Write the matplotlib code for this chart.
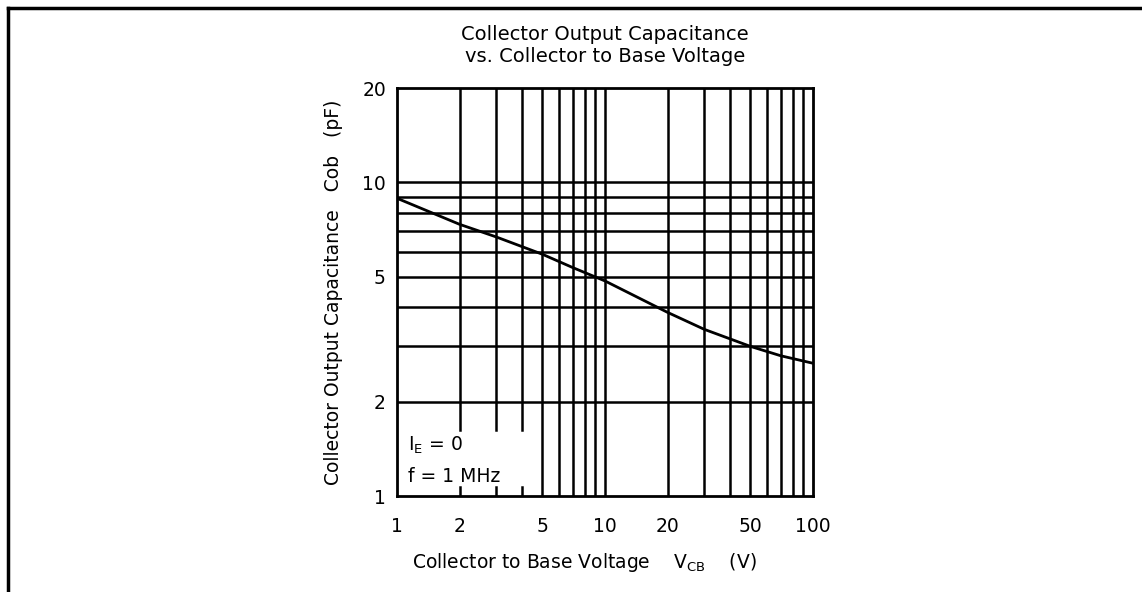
import matplotlib
matplotlib.use("Agg")
import matplotlib.pyplot as plt
from matplotlib.lines import Line2D
from matplotlib.ticker import FixedLocator, NullLocator, NullFormatter

# curve
vcb = [1, 2, 3, 5, 7, 10, 20, 30, 50, 70, 100]
cob = [8.9, 7.35, 6.7, 5.9, 5.35, 4.85, 3.85, 3.4, 3.0, 2.8, 2.65]

x_ticks = [1, 2, 5, 10, 20, 50, 100]
x_ticklabels = ["1", "2", "5", "10", "20", "50", "100"]
y_ticks = [1, 2, 5, 10, 20]
y_ticklabels = ["1", "2", "5", "10", "20"]

x_grid_full = [5, 6, 7, 8, 9, 10, 20, 30, 40, 50, 60, 70, 80, 90]
x_grid_part = [2, 3, 4]
y_grid = [2, 3, 4, 5, 6, 7, 8, 9, 10]

plt.rcParams["font.family"] = ["DejaVu Sans"]
fs = 13.5

fig = plt.figure(figsize=(11.42, 5.92), dpi=100)
ax = fig.add_axes([397 / 1142, 1 - 496 / 592, 416 / 1142, 408 / 592])
ax.set_xscale("log")
ax.set_yscale("log")
ax.set_xlim(1, 100)
ax.set_ylim(1, 20)

lw = 1.8
for v in x_grid_full:
    ax.axvline(v, color="black", lw=lw, zorder=1)
for v in x_grid_part:
    ax.plot([v, v], [1.62, 20], color="black", lw=lw, zorder=1)
    ax.plot([v, v], [1, 1.07], color="black", lw=lw, zorder=1)
for c in y_grid:
    ax.axhline(c, color="black", lw=lw, zorder=1)

ax.plot(vcb, cob, color="black", lw=2, zorder=3)

for s in ax.spines.values():
    s.set_linewidth(2)

ax.xaxis.set_major_locator(FixedLocator(x_ticks))
ax.set_xticklabels(x_ticklabels)
ax.xaxis.set_minor_locator(NullLocator())
ax.xaxis.set_minor_formatter(NullFormatter())
ax.yaxis.set_major_locator(FixedLocator(y_ticks))
ax.set_yticklabels(y_ticklabels)
ax.yaxis.set_minor_locator(NullLocator())
ax.yaxis.set_minor_formatter(NullFormatter())
ax.tick_params(axis="x", length=0, labelsize=fs, pad=15)
ax.tick_params(axis="y", length=0, labelsize=fs, pad=8)

ax.set_xlabel("Collector to Base Voltage    V$_{\\mathregular{CB}}$    (V)", fontsize=fs, labelpad=11)
ax.xaxis.label.set_x(0.45)
ax.set_ylabel("Collector Output Capacitance   Cob   (pF)", fontsize=fs, labelpad=14)

ax.text(1.13, 1.454, "I$_{\\mathregular{E}}$ = 0", fontsize=fs, va="center")
ax.text(1.13, 1.15, "f = 1 MHz", fontsize=fs, va="center")

fig.text(605 / 1142, 1 - 35 / 592, "Collector Output Capacitance", ha="center", va="center", fontsize=14)
fig.text(605 / 1142, 1 - 57 / 592, "vs. Collector to Base Voltage", ha="center", va="center", fontsize=14)

# outer frame (top and left only)
fig.add_artist(Line2D([7.5 / 1142, 1], [1 - 7.5 / 592, 1 - 7.5 / 592], color="black", lw=2.5))
fig.add_artist(Line2D([7.5 / 1142, 7.5 / 1142], [0, 1 - 7.5 / 592], color="black", lw=2.5))

fig.savefig("out.png", dpi=100)
